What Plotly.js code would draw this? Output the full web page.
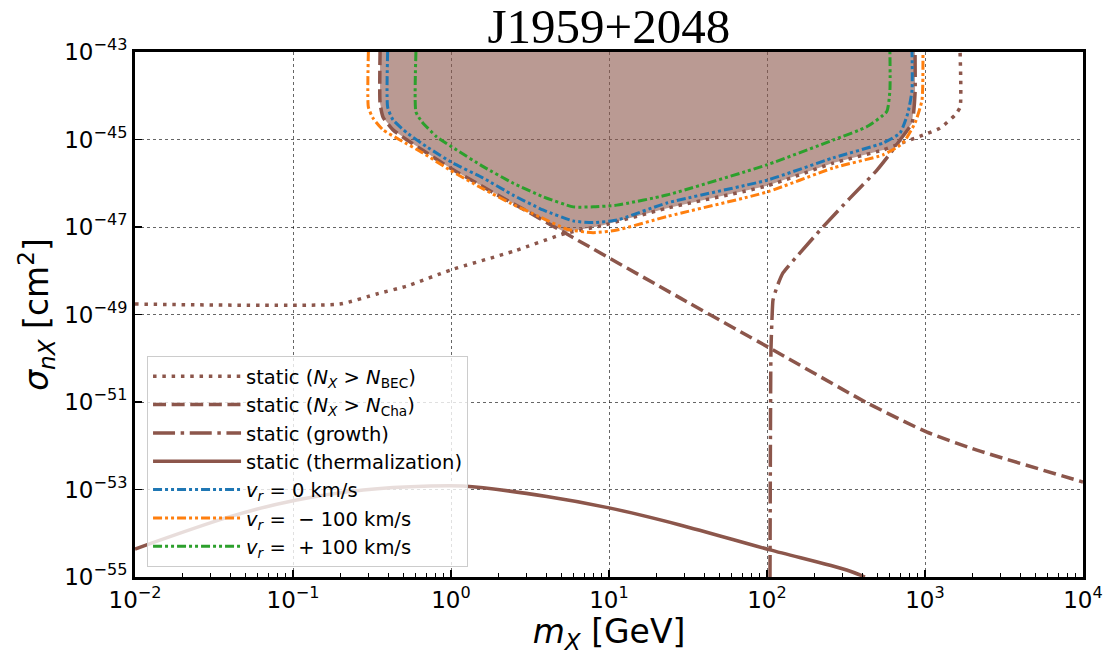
<!DOCTYPE html>
<html>
<head>
<meta charset="utf-8">
<script src="https://cdn.plot.ly/plotly-3.0.1.min.js"></script>
<style>html,body{margin:0;padding:0;background:#fff;}#chart{width:1109px;height:655px;}</style>
</head>
<body>
<div id="chart"></div>
<script>
// ---- data (log10 of m_X [GeV] and log10 of sigma [cm^2]) ----
const becLogM     = [-2.0, -0.703, -0.470, -0.280, 0.0, 0.40, 0.72, 0.943, 1.367, 2.0, 2.418, 2.734, 2.823, 2.987, 3.095, 3.190, 3.222, 3.222];
const becLogSigma = [-48.76, -48.76, -48.53, -48.35, -47.98, -47.55, -47.15, -46.98, -46.57, -46.06, -45.54, -45.24, -45.12, -44.90, -44.74, -44.44, -44.26, -43.0];

const chaLogM     = [-0.449, -0.449, -0.430, -0.367, -0.278, -0.152, -0.006, 0.139, 0.310, 0.481, 0.646, 0.772, 1.449, 2.019, 2.633, 3.013, 3.329, 4.0];
const chaLogSigma = [-43.0, -44.17, -44.49, -44.78, -45.01, -45.31, -45.65, -45.95, -46.30, -46.64, -46.98, -47.24, -48.62, -49.77, -51.02, -51.69, -52.10, -52.83];

const growthLogM     = [2.019, 2.025, 2.032, 2.038, 2.063, 2.101, 2.209, 2.354, 2.525, 2.696, 2.797, 2.842, 2.918, 2.937, 2.937];
const growthLogSigma = [-55.0, -49.81, -49.06, -48.67, -48.37, -48.05, -47.59, -47.0, -46.34, -45.70, -45.24, -45.01, -44.62, -43.94, -43.0];

const thermLogM     = [-2.0, -1.399, -0.977, -0.555, -0.133, 0.076, 0.606, 1.0, 1.449, 2.019, 2.504, 2.62];
const thermLogSigma = [-54.36, -53.62, -53.24, -53.01, -52.92, -52.92, -53.16, -53.42, -53.81, -54.38, -54.84, -55.0];

const regionLogM     = [-0.449, -0.449, -0.430, -0.367, -0.278, -0.152, -0.006, 0.139, 0.310, 0.481, 0.646, 0.72, 0.943, 1.367, 2.0, 2.418, 2.734, 2.797, 2.842, 2.918, 2.937, 2.937];
const regionLogSigma = [-43.0, -44.17, -44.49, -44.78, -45.01, -45.31, -45.65, -45.95, -46.30, -46.64, -46.98, -47.12, -46.98, -46.57, -46.06, -45.54, -45.24, -45.24, -45.01, -44.62, -43.94, -43.0];

const blueLogM     = [-0.401, -0.401, -0.367, -0.278, -0.152, 0.013, 0.203, 0.392, 0.582, 0.772, 0.899, 1.051, 1.367, 2.0, 2.418, 2.734, 2.842, 2.892, 2.918, 2.918];
const blueLogSigma = [-43.0, -44.26, -44.55, -44.85, -45.17, -45.54, -45.88, -46.27, -46.61, -46.86, -46.90, -46.84, -46.45, -45.93, -45.42, -45.08, -44.85, -44.39, -43.87, -43.0];

const orangeLogM     = [-0.523, -0.523, -0.494, -0.430, -0.323, -0.177, -0.006, 0.184, 0.373, 0.563, 0.734, 0.899, 1.051, 1.367, 2.0, 2.418, 2.734, 2.861, 2.937, 2.981, 2.987];
const orangeLogSigma = [-43.0, -44.26, -44.51, -44.78, -45.01, -45.31, -45.70, -46.09, -46.45, -46.77, -47.05, -47.13, -47.07, -46.76, -46.20, -45.65, -45.35, -45.08, -44.62, -44.10, -43.0];

const greenLogM     = [-0.222, -0.222, -0.185, -0.090, 0.036, 0.204, 0.394, 0.584, 0.774, 0.901, 1.049, 1.365, 1.998, 2.420, 2.631, 2.758, 2.778, 2.778];
const greenLogSigma = [-43.0, -44.37, -44.59, -44.94, -45.24, -45.62, -46.00, -46.31, -46.54, -46.54, -46.50, -46.27, -45.58, -45.01, -44.71, -44.36, -43.87, -43.0];

const seriesNames = [
  'static (<i>N</i><sub><i>X</i></sub> &gt; <i>N</i><sub>BEC</sub>)',
  'static (<i>N</i><sub><i>X</i></sub> &gt; <i>N</i><sub>Cha</sub>)',
  'static (growth)',
  'static (thermalization)',
  '<i>v</i><sub><i>r</i></sub> = 0 km/s',
  '<i>v</i><sub><i>r</i></sub> =  \u2212 100 km/s',
  '<i>v</i><sub><i>r</i></sub> =  + 100 km/s'
];

const xTickVals = [1e-2, 1e-1, 1e0, 1e1, 1e2, 1e3, 1e4];
const xTickText = ['10<sup>\u22122</sup>', '10<sup>\u22121</sup>', '10<sup>0</sup>', '10<sup>1</sup>', '10<sup>2</sup>', '10<sup>3</sup>', '10<sup>4</sup>'];
const yTickVals = [1e-43, 1e-45, 1e-47, 1e-49, 1e-51, 1e-53, 1e-55];
const yTickText = ['10<sup>\u221243</sup>', '10<sup>\u221245</sup>', '10<sup>\u221247</sup>', '10<sup>\u221249</sup>', '10<sup>\u221251</sup>', '10<sup>\u221253</sup>', '10<sup>\u221255</sup>'];

// ---- build ----
const p10 = a => a.map(v => Math.pow(10, v));
const BROWN = '#8c564b', BLUE = '#1f77b4', ORANGE = '#ff7f0e', GREEN = '#2ca02c';
const DDD = '9px,3px,3px,3px,3px,3px';

const minorVals = [];
for (let k = -2; k < 4; k++) for (let m = 2; m <= 9; m++) minorVals.push(m * Math.pow(10, k));

const traces = [
  {x: p10(regionLogM), y: p10(regionLogSigma), mode: 'lines', fill: 'toself',
   fillcolor: 'rgba(140,86,75,0.6)', line: {width: 0, color: 'rgba(0,0,0,0)'}, showlegend: false, hoverinfo: 'skip'},
  {x: p10(becLogM), y: p10(becLogSigma), name: seriesNames[0], mode: 'lines',
   line: {color: BROWN, width: 3.5, dash: '3.5px,5.8px', shape: 'spline', smoothing: 0.5}},
  {x: p10(chaLogM), y: p10(chaLogSigma), name: seriesNames[1], mode: 'lines',
   line: {color: BROWN, width: 3.5, dash: '13px,5.6px', shape: 'spline', smoothing: 0.5}},
  {x: p10(growthLogM), y: p10(growthLogSigma), name: seriesNames[2], mode: 'lines',
   line: {color: BROWN, width: 3.5, dash: '22px,5.6px,3.5px,5.6px', shape: 'spline', smoothing: 0.5}},
  {x: p10(thermLogM), y: p10(thermLogSigma), name: seriesNames[3], mode: 'lines',
   line: {color: BROWN, width: 3.5, shape: 'spline', smoothing: 0.8}},
  {x: p10(blueLogM), y: p10(blueLogSigma), name: seriesNames[4], mode: 'lines',
   line: {color: BLUE, width: 3, dash: DDD, shape: 'spline', smoothing: 0.5}},
  {x: p10(orangeLogM), y: p10(orangeLogSigma), name: seriesNames[5], mode: 'lines',
   line: {color: ORANGE, width: 3, dash: DDD, shape: 'spline', smoothing: 0.5}},
  {x: p10(greenLogM), y: p10(greenLogSigma), name: seriesNames[6], mode: 'lines',
   line: {color: GREEN, width: 3, dash: DDD, shape: 'spline', smoothing: 0.5}}
];

const axisCommon = {
  type: 'log', showline: true, mirror: true, linewidth: 3, linecolor: '#000',
  ticks: 'inside', ticklen: 7, tickwidth: 1.5, tickcolor: '#000',
  showgrid: true, gridcolor: 'rgba(0,0,0,0.6)', gridwidth: 1, griddash: 'dot',
  zeroline: false, tickmode: 'array',
  tickfont: {family: 'DejaVu Sans', size: 23, color: '#000'}
};

const layout = {
  width: 1109, height: 655,
  margin: {l: 135, r: 26, t: 52, b: 78, autoexpand: false},
  paper_bgcolor: '#fff', plot_bgcolor: '#fff',
  title: {text: 'J1959+2048', font: {family: 'Liberation Serif', size: 49, color: '#000'},
          x: 0.549, xanchor: 'center', xref: 'container', y: 0.960, yanchor: 'middle', yref: 'container'},
  xaxis: Object.assign({}, axisCommon, {
    range: [-2, 4], tickvals: xTickVals, ticktext: xTickText,
    minor: {tickmode: 'array', tickvals: minorVals, ticks: 'inside', ticklen: 4, tickwidth: 1, tickcolor: '#000', showgrid: false},
    title: {text: '<i>m</i><sub><i>X</i></sub> [GeV]', font: {family: 'DejaVu Sans', size: 33, color: '#000'}, standoff: 4}
  }),
  yaxis: Object.assign({}, axisCommon, {
    range: [-55, -43], tickvals: yTickVals, ticktext: yTickText,
    title: {text: '<i>σ</i><sub><i>nX</i></sub> [cm<sup>2</sup>]', font: {family: 'DejaVu Sans', size: 33, color: '#000'}, standoff: 6}
  }),
  legend: {
    x: 0.0127, y: 0.019, xanchor: 'left', yanchor: 'bottom',
    bgcolor: 'rgba(255,255,255,0.8)', bordercolor: '#cccccc', borderwidth: 1,
    font: {family: 'DejaVu Sans', size: 19.5, color: '#000'},
    itemwidth: 88, traceorder: 'normal', tracegroupgap: 0
  },
  showlegend: true
};

Plotly.newPlot('chart', traces, layout, {displayModeBar: false, staticPlot: true});
</script>
</body>
</html>
